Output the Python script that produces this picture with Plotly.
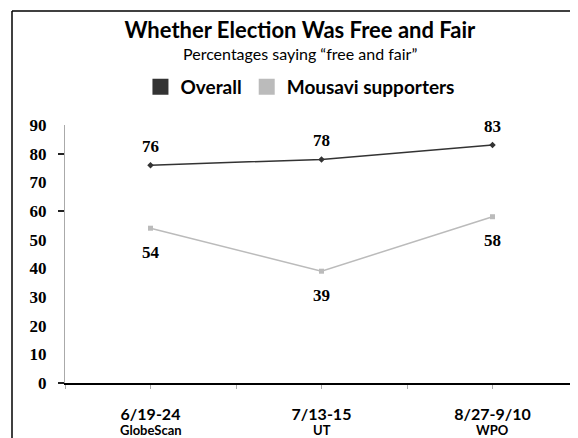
import plotly.graph_objects as go

# %% Data
periods = ['6/19-24', '7/13-15', '8/27-9/10']
sources = ['GlobeScan', 'UT', 'WPO']
overall = [76, 78, 83]
mousavi = [54, 39, 58]
y_ticks = [0, 10, 20, 30, 40, 50, 60, 70, 80, 90]

dark = '#333333'
light = '#bbbbbb'
label_font = 'Liberation Serif'
sans = 'Lato'

x = list(range(len(periods)))

fig = go.Figure()

# Lines
fig.add_trace(go.Scatter(
    x=x, y=overall, mode='lines+markers', name='Overall',
    line=dict(color=dark, width=1.5),
    marker=dict(symbol='diamond', size=5, color=dark),
    showlegend=False,
))
fig.add_trace(go.Scatter(
    x=x, y=mousavi, mode='lines+markers', name='Mousavi supporters',
    line=dict(color=light, width=1.5),
    marker=dict(symbol='square', size=5, color=light),
    showlegend=False,
))

# Legend entries with square swatches
for name, color in [('Overall', dark), ('Mousavi supporters', light)]:
    fig.add_trace(go.Scatter(
        x=[None], y=[None], mode='markers', name=f'<b>{name}</b>',
        marker=dict(symbol='square', size=18, color=color),
    ))

# Data labels: overall above the points, Mousavi below
labels = []
for xi, v in zip(x, overall):
    labels.append(dict(x=xi, y=v, text=f'<b>{v}</b>', yshift=19))
for xi, v in zip(x, mousavi):
    labels.append(dict(x=xi, y=v, text=f'<b>{v}</b>', yshift=-24))
for a in labels:
    a.update(xref='x', yref='y', showarrow=False, xanchor='center', yanchor='middle',
             font=dict(family=label_font, size=17, color='black'))

# Poll source under each date
source_labels = [dict(x=xi, y=(383 - 430) / 258, xref='x', yref='paper', text=f'<b>{s}</b>',
                      showarrow=False, xanchor='center', yanchor='middle',
                      font=dict(family=sans, size=13, color='black'))
                 for xi, s in zip(x, sources)]

subtitle = dict(
    text='Percentages saying \u201cfree and fair\u201d', xref='paper', yref='paper',
    x=0.458, y=(383 - 54) / 258, xanchor='center', yanchor='middle', showarrow=False,
    font=dict(family=sans, size=16, color='black'),
)

# page body has an 8px margin, so the figure is 8px smaller than the window
fig.update_layout(
    width=570, height=430,
    margin=dict(l=57, r=0, t=117, b=55),
    paper_bgcolor='white', plot_bgcolor='white',
    title=dict(
        text='<b>Whether Election Was Free and Fair</b>',
        font=dict(family=sans, size=22, color='black'),
        x=0.512, xanchor='center', y=1 - (30 - 8) / 430, yref='container', yanchor='middle',
    ),
    annotations=labels + source_labels + [subtitle],
    legend=dict(
        orientation='h', x=0.458, xanchor='center', y=(383 - 87) / 258, yanchor='middle',
        font=dict(family=sans, size=19, color='black'),
        itemwidth=30, traceorder='normal',
    ),
    xaxis=dict(
        range=[-0.5, 2.5], tickvals=x, ticktext=[f'<b>{p}</b>' for p in periods],
        showgrid=False, zeroline=False, automargin=False,
        showline=True, linecolor='black', linewidth=1.5,
        ticks='outside', ticklen=4, tickcolor='#aaaaaa',
        minor=dict(ticks='outside', dtick=0.5, tick0=-0.5, ticklen=4, tickcolor='#aaaaaa'),
        tickfont=dict(family=sans, size=16, color='black'),
        ticklabelstandoff=12,
    ),
    yaxis=dict(
        range=[0, 90], tickvals=y_ticks, ticktext=[f'<b>{v}</b>' for v in y_ticks],
        showgrid=False, zeroline=False, automargin=False,
        showline=True, linecolor='#aaaaaa', linewidth=1,
        ticks='', ticklabelstandoff=14,
        minor=dict(ticks='outside', tickvals=[0, 60, 80], ticklen=6, tickcolor='#222222', tickwidth=1.5),
        tickfont=dict(family=label_font, size=17, color='black'),
    ),
    shapes=[
        dict(type='line', xref='paper', yref='paper', x0=(12 - 65) / 513, x1=1.0,
             y0=(383 - 11) / 258, y1=(383 - 11) / 258, line=dict(color='black', width=1.5)),
        dict(type='line', xref='paper', yref='paper', x0=(12 - 65) / 513, x1=(12 - 65) / 513,
             y0=-0.3, y1=(383 - 11) / 258, line=dict(color='black', width=1.5)),
    ],
)

fig.write_html('out.html')
